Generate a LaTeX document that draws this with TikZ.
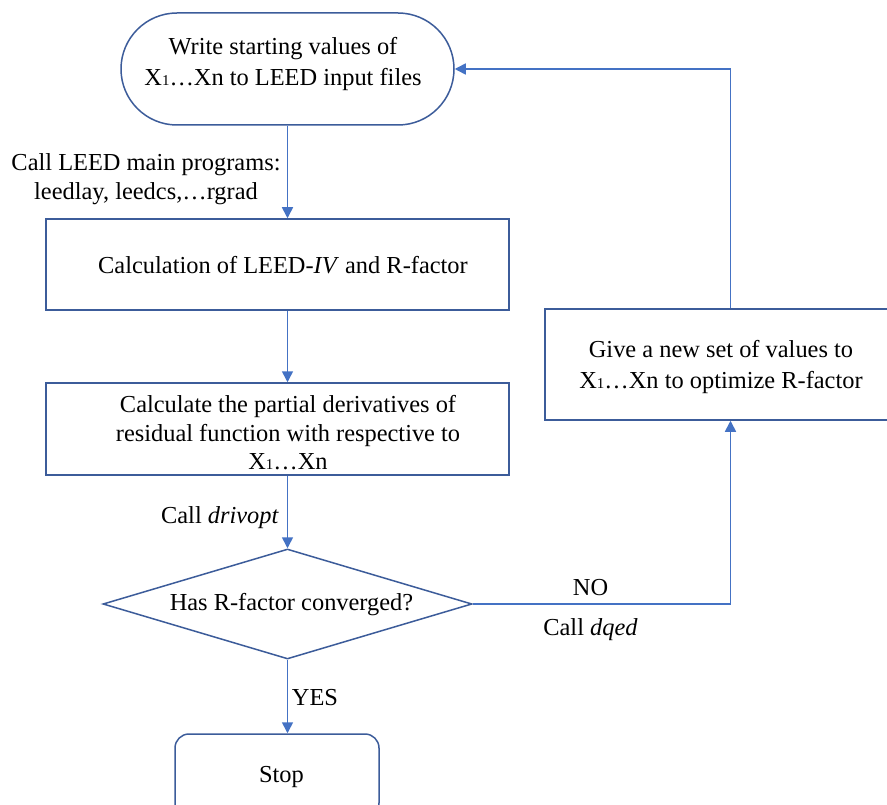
\documentclass[tikz,border=0pt]{standalone}
\usepackage{fontspec}
\setmainfont{Liberation Serif}
\usetikzlibrary{arrows.meta,shapes.geometric}
\definecolor{boxc}{HTML}{3C5C9A}
\definecolor{arrc}{HTML}{4472C4}
\newcommand{\xone}{X{\fontsize{15}{15}\selectfont 1}}
\begin{document}
\begin{tikzpicture}[x=1pt,y=-1pt,
  shapebox/.style={draw=boxc, line width=1.5pt, fill=white, inner sep=0pt, rectangle},
  txt/.style={font=\fontsize{24.4}{31}\selectfont, align=center, inner sep=0pt, text=black},
  arr/.style={draw=arrc, line width=1.6pt, -{Triangle[length=11pt,width=11pt]}},
  plain/.style={draw=arrc, line width=1.6pt}]
\path[use as bounding box, clip] (0,0) rectangle (887,805);
\fill[white] (0,0) rectangle (887,805);

% shapes
\node[shapebox, rounded corners=56pt, minimum width=333pt, minimum height=112pt] (start) at (287.5,69) {};
\node[shapebox, minimum width=463pt, minimum height=91pt] (box1) at (277.5,264.5) {};
\node[shapebox, minimum width=463pt, minimum height=92pt] (box2) at (277.5,429) {};
\node[shapebox, minimum width=352pt, minimum height=111pt] (box3) at (721,364.5) {};
\node[shapebox, diamond, aspect=3.35, minimum width=369pt, minimum height=110pt] (dia) at (287.5,604) {};
\node[shapebox, rounded corners=14pt, minimum width=204pt, minimum height=83pt] (stop) at (277,775.5) {};

% texts
\node[txt] (starttxt) at (283,64.5) {Write starting values of\\\xone…Xn to LEED input files};
\node[txt] (box1txt) at (283,265.5) {Calculation of LEED-\textit{IV} and R-factor};
\node[txt, font=\fontsize{24.4}{28.5}\selectfont] (box2txt) at (288,433) {Calculate the partial derivatives of\\residual function with respective to\\\xone…Xn};
\node[txt] (box3txt) at (721,367.5) {Give a new set of values to\\\xone…Xn to optimize R-factor};
\node[txt] (diatxt) at (291.5,605) {Has R-factor converged?};
\node[txt] (stoptxt) at (281.5,777.5) {Stop};

% connectors
\coordinate (ax) at (287.5,0);
\coordinate (lx) at (730.5,0);
\draw[arr] (start.south) -- (ax |- box1.north);
\draw[arr] (ax |- box1.south) -- (ax |- box2.north);
\draw[arr] (ax |- box2.south) -- (dia.north);
\draw[arr] (dia.south) -- (ax |- stop.north);
\draw[arr] (dia.east) -- (dia.east -| lx) -- (lx |- box3.south);
\draw[arr] (lx |- box3.north) -- (lx |- start.east) -- (start.east);

% connector labels
\node[txt, font=\fontsize{24.4}{29}\selectfont] (lbl1) at (146,179.5) {Call LEED main programs:\\leedlay, leedcs,…rgrad};
\node[txt] (lbl2) at (220,518) {Call \textit{drivopt}};
\node[txt] (lblno) at (590.5,588) {NO};
\node[txt] (lbldq) at (590.5,630) {Call \textit{dqed}};
\node[txt] (lblyes) at (315,698) {YES};
\end{tikzpicture}
\end{document}
